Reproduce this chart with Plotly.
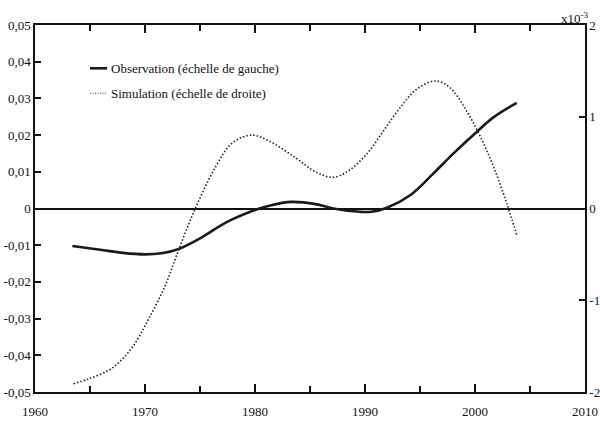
import plotly.graph_objects as go

obs_years = [1963.4, 1966.1, 1968.0, 1970.0, 1971.5, 1973.0, 1975.2, 1977.3, 1980.2, 1981.2,
             1983.3, 1985.5, 1987.1, 1989.5, 1990.6, 1992.0, 1994.1, 1996.2, 1998.0, 1999.8,
             2001.7, 2003.8]
obs_vals = [-0.0102, -0.0113, -0.0121, -0.0125, -0.0122, -0.0111, -0.0078, -0.0039, -0.0002, 0.0007,
            0.0018, 0.0012, 0.0000, -0.0009, -0.0009, 0.0002, 0.0036, 0.0095, 0.0149, 0.0199,
            0.0249, 0.0288]

sim_years = [1963.5, 1964.8, 1967.0, 1968.8, 1970.3, 1971.8, 1973.0, 1974.5, 1976.4, 1977.9,
             1979.7, 1981.2, 1983.6, 1985.5, 1987.1, 1988.6, 1990.2, 1991.7, 1993.2, 1994.7,
             1996.4, 1997.7, 1999.2, 2000.5, 2001.7, 2002.9, 2003.8]
sim_vals = [-1.91, -1.86, -1.74, -1.52, -1.21, -0.85, -0.47, -0.02, 0.45, 0.71,
            0.80, 0.74, 0.56, 0.40, 0.34, 0.42, 0.60, 0.85, 1.10, 1.30,
            1.39, 1.32, 1.07, 0.78, 0.45, 0.05, -0.29]

left_ticks = [0.05, 0.04, 0.03, 0.02, 0.01, 0.0, -0.01, -0.02, -0.03, -0.04, -0.05]
left_labels = ["0,05", "0,04", "0,03", "0,02", "0,01", "0", "-0,01", "-0,02", "-0,03", "-0,04", "-0,05"]
right_ticks = [2, 1, 0, -1, -2]
right_labels = ["2", "1", "0", "-1", "-2"]
x_ticks = [1960, 1970, 1980, 1990, 2000, 2010]
x_labels = ["1960", "1970", "1980", "1990", "2000", "2010"]

legend_names = ["Observation (échelle de gauche)", "Simulation (échelle de droite)"]

FONT = "Liberation Serif"

fig = go.Figure()
fig.add_trace(go.Scatter(x=obs_years, y=obs_vals, mode="lines", line=dict(color="#1a1a1a", width=2.6, shape="spline"),
                         name=legend_names[0], showlegend=False))
fig.add_trace(go.Scatter(x=sim_years, y=sim_vals, mode="lines", yaxis="y2",
                         line=dict(color="#222222", width=1.6, dash="1.5px,2px", shape="spline"),
                         name=legend_names[1], showlegend=False))

# manual legend
fig.add_shape(type="line", xref="paper", yref="paper", x0=0.100, x1=0.131, y0=0.882, y1=0.882,
              line=dict(color="#1a1a1a", width=2.6))
fig.add_shape(type="line", xref="paper", yref="paper", x0=0.100, x1=0.131, y0=0.814, y1=0.814,
              line=dict(color="#333333", width=1.0, dash="1px,1.5px"))
fig.add_annotation(xref="paper", yref="paper", x=0.141, y=0.882, text=legend_names[0], showarrow=False,
                   xanchor="left", yanchor="middle", xshift=-4, font=dict(family=FONT, size=13, color="#111"))
fig.add_annotation(xref="paper", yref="paper", x=0.141, y=0.814, text=legend_names[1], showarrow=False,
                   xanchor="left", yanchor="middle", xshift=-4, font=dict(family=FONT, size=13, color="#111"))
fig.add_annotation(xref="paper", yref="paper", x=1.0, y=1.0, text="x10<sup>-3</sup>", showarrow=False,
                   xanchor="center", yanchor="bottom", xshift=-10, yshift=-3,
                   font=dict(family=FONT, size=13, color="#111"))

fig.update_layout(
    width=600, height=423,
    margin=dict(l=35, r=15, t=25, b=31),
    paper_bgcolor="white", plot_bgcolor="white",
    font=dict(family=FONT, size=13, color="#111"),
    xaxis=dict(range=[1960, 2010], tickvals=x_ticks, ticktext=x_labels, automargin=False,
               ticks="inside", ticklen=8, tickwidth=1.5, tickcolor="#111",
               minor=dict(dtick=5, tick0=1960, ticks="inside", ticklen=6, tickwidth=1.5, tickcolor="#111"),
               showline=True, linecolor="#111", linewidth=1.5, mirror="ticks",
               showgrid=False, zeroline=False, ticklabelstandoff=7),
    yaxis=dict(range=[-0.05, 0.05], tickvals=left_ticks, ticktext=left_labels, automargin=False,
               ticks="inside", ticklen=6, tickwidth=1.5, tickcolor="#111",
               showline=True, linecolor="#111", linewidth=1.5,
               showgrid=False, zeroline=True, zerolinecolor="#111", zerolinewidth=1.5),
    yaxis2=dict(range=[-2, 2], overlaying="y", side="right", tickvals=right_ticks, ticktext=right_labels,
                automargin=False,
                ticks="inside", ticklen=6, tickwidth=1.5, tickcolor="#111",
                showline=True, linecolor="#111", linewidth=1.5,
                showgrid=False, zeroline=False),
)

fig.write_html("out.html")
